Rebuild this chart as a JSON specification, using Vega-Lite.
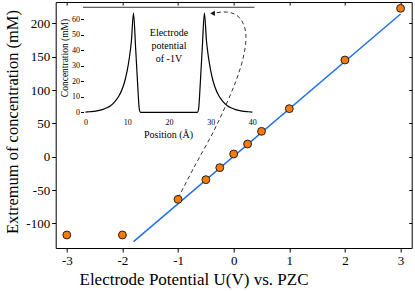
{
  "$schema": "https://vega.github.io/schema/vega-lite/v6.json",
  "width": 356,
  "height": 246,
  "autosize": "none",
  "padding": {"left": 55.7, "top": 2, "right": 3.3, "bottom": 43},
  "background": "white",
  "config": {
    "view": {"stroke": "#000", "strokeWidth": 1},
    "font": "'Liberation Serif', 'Times New Roman', 'DejaVu Serif', serif",
    "axis": {"domain": false, "grid": false, "labelFont": "'Liberation Serif', 'Times New Roman', 'DejaVu Serif', serif", "titleFont": "'Liberation Serif', 'Times New Roman', 'DejaVu Serif', serif", "labelColor": "#000", "titleColor": "#000", "tickColor": "#000", "titleFontWeight": "normal"}
  },
  "datasets": {
    "pts": [
      {"U": -3, "C": -117.5}, {"U": -2, "C": -117.5}, {"U": -1, "C": -64}, {"U": -0.5, "C": -34.5},
      {"U": -0.25, "C": -16.5}, {"U": 0, "C": 4}, {"U": 0.25, "C": 19}, {"U": 0.5, "C": 38},
      {"U": 1, "C": 72}, {"U": 2, "C": 145}, {"U": 3, "C": 222.5}
    ],
    "fit": [{"U": -1.8, "C": -127.5}, {"U": 3, "C": 214}],
    "arrow": [
      {"i": 1, "U": -1.0, "C": -62}, {"i": 2, "U": -0.70, "C": -14}, {"i": 3, "U": -0.34, "C": 41.5},
      {"i": 4, "U": -0.10, "C": 85}, {"i": 5, "U": 0.06, "C": 118}, {"i": 6, "U": 0.17, "C": 148},
      {"i": 7, "U": 0.22, "C": 175}, {"i": 8, "U": 0.20, "C": 193}, {"i": 9, "U": 0.11, "C": 208},
      {"i": 10, "U": -0.03, "C": 215.5}, {"i": 11, "U": -0.21, "C": 217}, {"i": 12, "U": -0.36, "C": 215}
    ],
    "head": [{"U": -0.38, "C": 215}],
    "profile": [
      {"pos": 0, "conc": 0.2}, {"pos": 1, "conc": 0.4}, {"pos": 2, "conc": 0.6}, {"pos": 3, "conc": 1.1},
      {"pos": 4, "conc": 1.8}, {"pos": 5, "conc": 2.8}, {"pos": 6, "conc": 4.3}, {"pos": 7, "conc": 6.8},
      {"pos": 8, "conc": 10.5}, {"pos": 9, "conc": 16.5}, {"pos": 9.5, "conc": 21}, {"pos": 10, "conc": 27},
      {"pos": 10.5, "conc": 35}, {"pos": 11, "conc": 46}, {"pos": 11.5, "conc": 64}, {"pos": 12, "conc": 42},
      {"pos": 12.5, "conc": 18}, {"pos": 12.9, "conc": 2}, {"pos": 13.2, "conc": 0}, {"pos": 20, "conc": 0},
      {"pos": 26.8, "conc": 0}, {"pos": 27.1, "conc": 2}, {"pos": 27.5, "conc": 18}, {"pos": 28, "conc": 42},
      {"pos": 28.5, "conc": 64}, {"pos": 29, "conc": 46}, {"pos": 29.5, "conc": 35}, {"pos": 30, "conc": 27},
      {"pos": 30.5, "conc": 21}, {"pos": 31, "conc": 16.5}, {"pos": 32, "conc": 10.5}, {"pos": 33, "conc": 6.8},
      {"pos": 34, "conc": 4.3}, {"pos": 35, "conc": 2.8}, {"pos": 36, "conc": 1.8}, {"pos": 37, "conc": 1.1},
      {"pos": 38, "conc": 0.6}, {"pos": 39, "conc": 0.4}, {"pos": 40, "conc": 0.2}
    ],
    "frame": [{"x0": -0.6, "x1": 40.5, "conc": 67.7}],
    "note": [{"pos": 20, "conc": 51.3, "label": "Electrode\npotential\nof -1V"}]
  },
  "layer": [
    {
      "data": {"name": "fit"},
      "mark": {"type": "line", "color": "#2070e8", "strokeWidth": 1.5},
      "encoding": {
        "x": {"field": "U", "type": "quantitative", "scale": {"domain": [-3.2, 3.2], "nice": false, "zero": false},
          "axis": {"orient": "top", "values": [-3, -2, -1, 0, 1, 2, 3], "labels": false, "tickSize": -3, "title": null}},
        "y": {"field": "C", "type": "quantitative", "scale": {"domain": [-137, 232], "nice": false, "zero": false},
          "axis": {"orient": "right", "values": [-100, -50, 0, 50, 100, 150, 200], "labels": false, "tickSize": -3, "title": null}}
      }
    },
    {
      "data": {"name": "arrow"},
      "mark": {"type": "line", "color": "#333", "strokeWidth": 1, "strokeDash": [4, 3], "interpolate": "catmull-rom"},
      "encoding": {
        "x": {"field": "U", "type": "quantitative", "scale": {"domain": [-3.2, 3.2], "nice": false, "zero": false}, "axis": null},
        "y": {"field": "C", "type": "quantitative", "scale": {"domain": [-137, 232], "nice": false, "zero": false}, "axis": null},
        "order": {"field": "i", "type": "quantitative"}
      }
    },
    {
      "data": {"name": "head"},
      "mark": {"type": "point", "shape": "triangle-left", "filled": true, "color": "#111", "size": 28, "opacity": 1},
      "encoding": {
        "x": {"field": "U", "type": "quantitative", "scale": {"domain": [-3.2, 3.2], "nice": false, "zero": false}, "axis": null},
        "y": {"field": "C", "type": "quantitative", "scale": {"domain": [-137, 232], "nice": false, "zero": false}, "axis": null}
      }
    },
    {
      "data": {"name": "pts"},
      "mark": {"type": "point", "filled": true, "fill": "#f57c0a", "stroke": "#222", "strokeWidth": 1, "size": 62, "opacity": 1},
      "encoding": {
        "x": {"field": "U", "type": "quantitative", "scale": {"domain": [-3.2, 3.2], "nice": false, "zero": false},
          "axis": {"orient": "bottom", "values": [-3, -2, -1, 0, 1, 2, 3], "tickSize": 4, "labelFontSize": 13, "labelPadding": 2,
            "labelExpr": "'' + datum.value", "title": "Electrode Potential U(V) vs. PZC", "titleFontSize": 17,
            "titleX": 137.8, "titleY": 31, "titleBaseline": "middle", "titleAlign": "center"}},
        "y": {"field": "C", "type": "quantitative", "scale": {"domain": [-137, 232], "nice": false, "zero": false},
          "axis": {"orient": "left", "values": [-100, -50, 0, 50, 100, 150, 200], "tickSize": 4, "labelFontSize": 13, "labelPadding": 2,
            "labelExpr": "'' + datum.value", "title": "Extremum of concentration (mM)", "titleFontSize": 16.5,
            "titleX": -43.7, "titleY": 119.5, "titleBaseline": "middle", "titleAlign": "center"}}
      }
    },
    {
      "data": {"name": "profile"},
      "mark": {"type": "line", "color": "#000", "strokeWidth": 1.2, "interpolate": "monotone"},
      "encoding": {
        "x": {"field": "pos", "type": "quantitative", "scale": {"domain": [-7.15, 78.2], "nice": false, "zero": false},
          "axis": {"orient": "bottom", "offset": -133, "values": [0, 10, 20, 30, 40], "ticks": false, "labelFontSize": 8, "labelPadding": 3,
            "title": "Position (Å)", "titleFontSize": 10, "titleX": 112.3, "titleY": 19.7, "titleBaseline": "middle", "titleAlign": "center"}},
        "y": {"field": "conc", "type": "quantitative", "scale": {"domain": [-87.4, 71.1], "nice": false, "zero": false},
          "axis": {"orient": "left", "offset": -27.8, "values": [0, 10, 20, 30, 40, 50, 60], "tickSize": 3, "labelFontSize": 8, "labelPadding": 1,
            "title": "Concentration (mM)", "titleFontSize": 9.5, "titleX": -19.5, "titleY": 55.5, "titleBaseline": "middle", "titleAlign": "center"}}
      }
    },
    {
      "data": {"name": "frame"},
      "mark": {"type": "rule", "color": "#333", "strokeWidth": 1},
      "encoding": {
        "x": {"field": "x0", "type": "quantitative", "scale": {"domain": [-7.15, 78.2], "nice": false, "zero": false}, "axis": null},
        "x2": {"field": "x1"},
        "y": {"field": "conc", "type": "quantitative", "scale": {"domain": [-87.4, 71.1], "nice": false, "zero": false}, "axis": null}
      }
    },
    {
      "data": {"name": "note"},
      "mark": {"type": "text", "font": "'Liberation Serif', 'Times New Roman', 'DejaVu Serif', serif", "fontSize": 10, "lineBreak": "\n", "lineHeight": 13, "align": "center", "baseline": "middle", "color": "#000"},
      "encoding": {
        "x": {"field": "pos", "type": "quantitative", "scale": {"domain": [-7.15, 78.2], "nice": false, "zero": false}, "axis": null},
        "y": {"field": "conc", "type": "quantitative", "scale": {"domain": [-87.4, 71.1], "nice": false, "zero": false}, "axis": null},
        "text": {"field": "label"}
      }
    }
  ],
  "resolve": {"scale": {"x": "independent", "y": "independent"}}
}
